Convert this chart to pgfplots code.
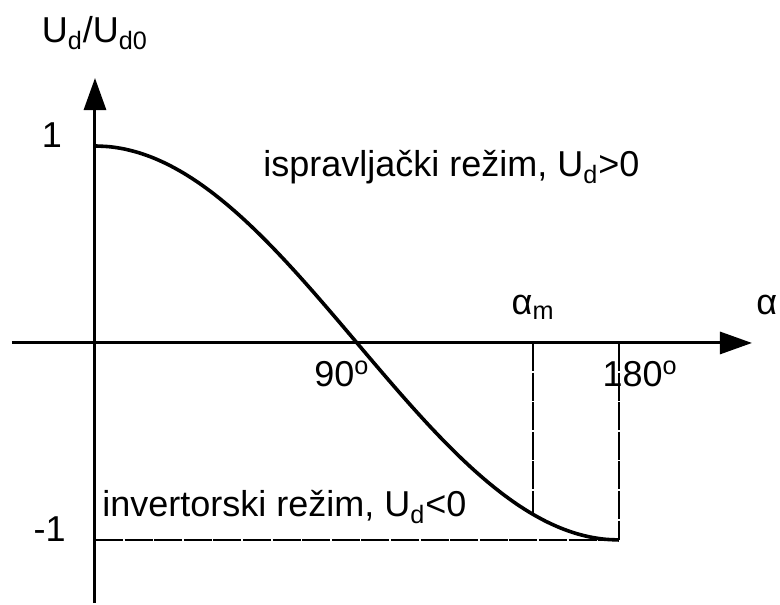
\documentclass[border=0pt]{standalone}
\usepackage{pgfplots}
\pgfplotsset{compat=1.18}
\usepackage{fontspec}
\setmainfont{Liberation Sans}
\usetikzlibrary{arrows.meta}
\tikzset{lbl/.style={font=\fontsize{18}{21.6}\selectfont, inner sep=0pt}}
\begin{document}
\begin{tikzpicture}
\begin{axis}[
  x=1.45556pt, y=98.5pt,
  xmin=-28.51, xmax=225.69, ymin=-1.320, ymax=1.345,
  axis lines=middle, enlargelimits=false,
  axis line style={line width=1.5pt, -{Triangle[length=16pt,width=11pt]}},
  xtick=\empty, ytick=\empty,
  clip=false,
]
\path (axis cs:-32.63,-1.320) rectangle (axis cs:235.31,1.741);
\addplot[line width=1.8pt, smooth, black] coordinates {
(0,1) (5,0.9962) (10,0.9848) (15,0.9659) (20,0.9397) (25,0.9063) (30,0.8660)
(35,0.8192) (40,0.7660) (45,0.7071) (50,0.6428) (55,0.5736) (60,0.5)
(65,0.4226) (70,0.3420) (75,0.2588) (80,0.1736) (85,0.0872) (90,0)
(95,-0.0872) (100,-0.1736) (105,-0.2588) (110,-0.3420) (115,-0.4226) (120,-0.5)
(125,-0.5736) (130,-0.6428) (135,-0.7071) (140,-0.7660) (145,-0.8192) (150,-0.8660)
(155,-0.9063) (160,-0.9397) (165,-0.9659) (170,-0.9848) (175,-0.9962) (180,-1)
};
\addplot[line width=1pt, black, dash pattern=on 14pt off 0.8pt] coordinates {(150.5,0) (150.5,-0.870)};
\addplot[line width=1pt, black, dash pattern=on 14pt off 0.8pt] coordinates {(180,0) (180,-1)};
\addplot[line width=1pt, black, dash pattern=on 14pt off 0.8pt] coordinates {(0,-1) (180,-1)};
\node[lbl, anchor=base] at (axis cs:0,1.523) {U\textsubscript{d}/U\textsubscript{d0}};
\node[lbl, anchor=base] at (axis cs:-14.8,0.99) {1};
\node[lbl, anchor=base] at (axis cs:-15.6,-1.01) {-1};
\node[lbl, anchor=base west] at (axis cs:57.7,0.843) {ispravljački režim, U\textsubscript{d}>0};
\node[lbl, anchor=base west] at (axis cs:2.4,-0.883) {invertorski režim, U\textsubscript{d}<0};
\node[lbl, anchor=base west] at (axis cs:75.2,-0.223) {90\textsuperscript{o}};
\node[lbl, anchor=base west] at (axis cs:174.2,-0.223) {180\textsuperscript{o}};
\node[lbl, anchor=base] at (axis cs:150.5,0.147) {α\textsubscript{m}};
\node[lbl, anchor=base] at (axis cs:230.8,0.147) {α};
\end{axis}
\end{tikzpicture}
\end{document}
